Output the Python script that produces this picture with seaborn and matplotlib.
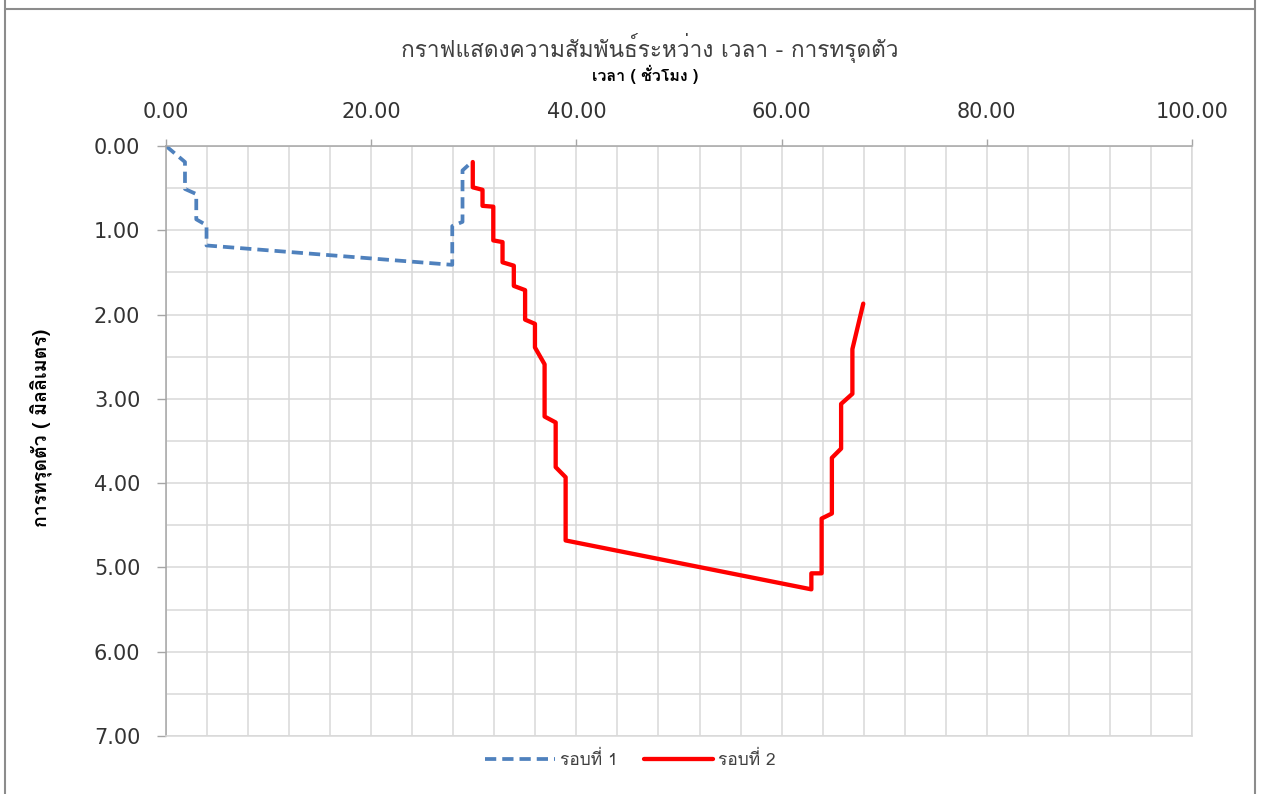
"""
Settlement vs time chart (two survey rounds), Excel-style look.
"""
import matplotlib
matplotlib.use("Agg")
import matplotlib.pyplot as plt
import matplotlib.ticker as mticker
from matplotlib import font_manager
from matplotlib.ft2font import FT2Font
from matplotlib.lines import Line2D
import seaborn as sns

# round 1 (dashed blue)
time_r1 = [0.0, 1.85, 1.85, 2.95, 2.95, 3.95, 3.95, 27.9, 27.9, 28.9, 28.9, 29.8]
settle_r1 = [0.0, 0.19, 0.51, 0.57, 0.87, 0.94, 1.18, 1.41, 0.95, 0.90, 0.29, 0.19]

# round 2 (solid red)
time_r2 = [29.9, 29.9, 30.85, 30.85, 31.9, 31.9, 32.8, 32.8, 33.9, 33.9, 35.0, 35.0,
           35.96, 35.96, 36.9, 36.9, 37.98, 37.98, 38.95, 38.95, 62.9, 62.9, 63.9,
           63.9, 64.9, 64.9, 65.8, 65.8, 66.9, 66.9, 67.96]
settle_r2 = [0.19, 0.49, 0.52, 0.71, 0.72, 1.12, 1.14, 1.38, 1.42, 1.66, 1.71, 2.06,
             2.11, 2.39, 2.59, 3.21, 3.28, 3.81, 3.93, 4.68, 5.26, 5.07, 5.07,
             4.42, 4.36, 3.70, 3.59, 3.06, 2.94, 2.41, 1.87]

labels = ["รอบที่ 1", "รอบที่ 2"]
title = "กราฟแสดงความสัมพันธ์ระหว่าง เวลา - การทรุดตัว"
xlabel = "เวลา ( ชั่วโมง )"
ylabel = "การทรุดตัว ( มิลลิเมตร)"


def thai_family():
    """First installed family that has Thai glyphs."""
    for fe in font_manager.fontManager.ttflist:
        try:
            if FT2Font(fe.fname).get_char_index(0x0E01):
                return fe.name
        except Exception:
            pass
    return "DejaVu Sans"


sns.set_style("white")
THAI = thai_family()
plt.rcParams["font.family"] = [THAI, "DejaVu Sans"]

W, H = 1261, 794
fig = plt.figure(figsize=(W / 100, H / 100), dpi=100)
ax = fig.add_axes([166 / W, 1 - 736 / H, (1192 - 166) / W, (736 - 146) / H])

sns.lineplot(x=time_r1, y=settle_r1, sort=False, estimator=None, ax=ax,
             color="#4f81bd", lw=2.7, linestyle=(0, (3, 1.6)), label=labels[0])
sns.lineplot(x=time_r2, y=settle_r2, sort=False, estimator=None, ax=ax,
             color="#ff0000", lw=3.1, label=labels[1])

ax.set_xlim(0, 100)
ax.set_ylim(7, 0)
ax.xaxis.tick_top()
ax.xaxis.set_major_locator(mticker.MultipleLocator(20))
ax.xaxis.set_minor_locator(mticker.MultipleLocator(4))
ax.yaxis.set_major_locator(mticker.MultipleLocator(1))
ax.yaxis.set_minor_locator(mticker.MultipleLocator(0.5))
ax.xaxis.set_major_formatter(mticker.FormatStrFormatter("%.2f"))
ax.yaxis.set_major_formatter(mticker.FormatStrFormatter("%.2f"))
ax.grid(True, which="both", color="#d9d9d9", lw=1.1)
ax.set_axisbelow(True)

ax.tick_params(axis="x", which="major", top=True, bottom=False, length=5,
               width=1, color="#a6a6a6", pad=12, labelsize=15, labelcolor="#333333")
ax.tick_params(axis="y", which="major", left=True, length=6.5, width=1,
               color="#a6a6a6", pad=12, labelsize=15, labelcolor="#333333")
ax.tick_params(which="minor", length=0)
for lab in ax.get_xticklabels() + ax.get_yticklabels():
    lab.set_family("DejaVu Sans")

for side in ["left", "top"]:
    ax.spines[side].set_color("#a6a6a6")
    ax.spines[side].set_linewidth(1.1)
for side in ["right", "bottom"]:
    ax.spines[side].set_color("#d9d9d9")
    ax.spines[side].set_linewidth(1.1)

ax.set_xlabel("")
ax.set_ylabel("")
fig.text(650 / W, 1 - 48 / H, title, ha="center", va="center",
         fontsize=16.3, color="#404040")
fig.text(645 / W, 1 - 74 / H, xlabel, ha="center", va="center",
         fontsize=11.5, fontweight="bold", color="#000000")
fig.text(42 / W, 1 - 428 / H, ylabel, ha="center", va="center", rotation=90,
         fontsize=14, fontweight="bold", color="#000000")

ax.legend(loc="center", bbox_to_anchor=(0.5, 1 - 760 / H),
          bbox_transform=fig.transFigure, ncol=2, frameon=False, fontsize=12.5,
          handlelength=4.0, handletextpad=0.3, columnspacing=1.5,
          labelcolor="#404040")

# outer chart-area frame
frame_kw = dict(color="#8c8c8c", lw=1.5, transform=fig.transFigure)
fig.add_artist(Line2D([5 / W, 5 / W], [0, 1], **frame_kw))
fig.add_artist(Line2D([1255 / W, 1255 / W], [0, 1], **frame_kw))
fig.add_artist(Line2D([5 / W, 1255 / W], [1 - 9 / H, 1 - 9 / H], **frame_kw))

fig.savefig("out.png", dpi=100)
plt.close(fig)
